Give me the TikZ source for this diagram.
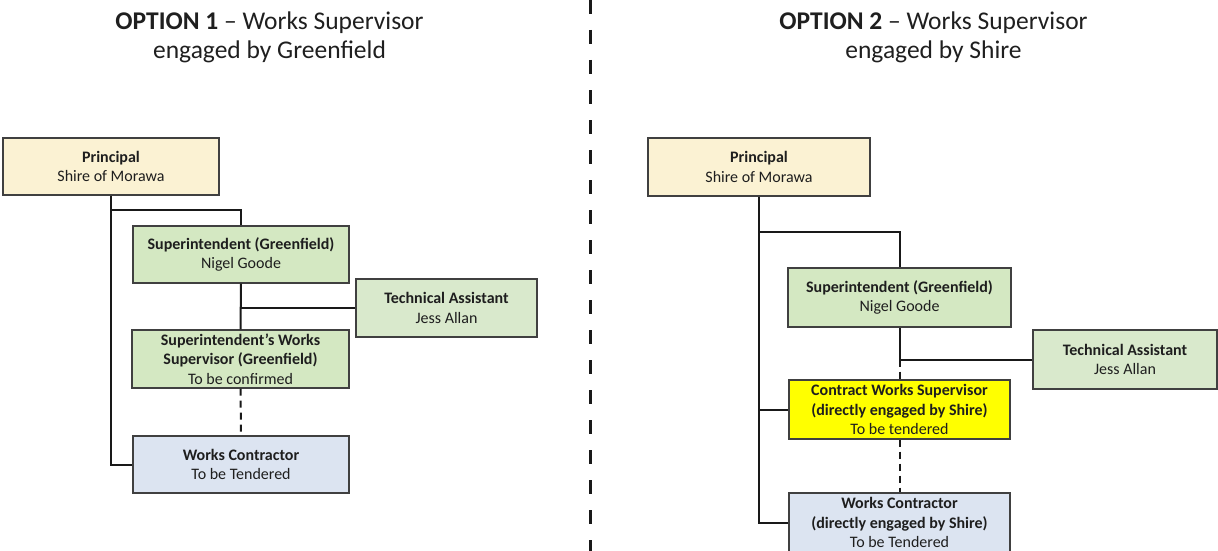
\documentclass[tikz,border=0pt]{standalone}
\usepackage{fontspec}
\setmainfont{Carlito}
\definecolor{princ}{HTML}{FBF2D3}
\definecolor{grn}{HTML}{D4E8C2}
\definecolor{grnb}{HTML}{D9E9CC}
\definecolor{ylw}{HTML}{FFFF00}
\definecolor{blu}{HTML}{DCE4F1}
\definecolor{bordc}{HTML}{404040}
\definecolor{txtc}{HTML}{1E1E1E}
\begin{document}
\begin{tikzpicture}[x=1pt,y=-1pt,
  box/.style={draw=bordc, line width=1.3pt, align=center, inner sep=0pt,
    font=\fontsize{16}{19.5}\selectfont, text=txtc},
  pbox/.style={box, fill=princ},
  gbox/.style={box, fill=grn},
  tbox/.style={box, fill=grnb},
  ybox/.style={box, fill=ylw},
  bbox/.style={box, fill=blu},
  conn/.style={line width=2pt, draw=black!90},
  dconn/.style={conn, dash pattern=on 7pt off 5pt},
  sepline/.style={line width=3pt, draw=black!90, dash pattern=on 14pt off 16pt},
  ttl/.style={align=center, font=\fontsize{25.5}{29.5}\selectfont, text=black!88, inner sep=0pt, anchor=base}]
\path[use as bounding box] (0,0) rectangle (1218,551);

% separator
\coordinate (sepT) at (590,0);
\coordinate (sepB) at (590,551);
\draw[sepline] (sepT) -- (sepB);

% titles (anchor base = baseline of last line)
\node[ttl] (tL) at (269.5,59) {\textbf{OPTION 1} -- Works Supervisor\\engaged by Greenfield};
\node[ttl] (tR) at (933.5,59) {\textbf{OPTION 2} -- Works Supervisor\\engaged by Shire};

% ---------- Option 1 ----------
\node[pbox, minimum width=216, minimum height=57] (pL) at (111,166.5) {\textbf{Principal}\\Shire of Morawa};
\node[gbox, minimum width=216, minimum height=57] (sL) at (241,254.5) {\textbf{Superintendent (Greenfield)}\\Nigel Goode};
\node[tbox, minimum width=181, minimum height=58] (taL) at (446.5,308) {\textbf{Technical Assistant}\\Jess Allan};
\node[gbox, minimum width=217, minimum height=58] (swsL) at (240.5,359) {\textbf{Superintendent’s Works}\\\textbf{Supervisor (Greenfield)}\\To be confirmed};
\node[bbox, minimum width=216, minimum height=57] (wcL) at (241,464.5) {\textbf{Works Contractor}\\To be Tendered};

\coordinate (jL1) at (pL.south |- 0,210);
\coordinate (jL2) at (sL.south |- taL.west);
\draw[conn] (pL.south) |- (wcL.west);
\draw[conn] (jL1) -| (sL.north);
\draw[conn] (sL.south) -- (swsL.north);
\draw[conn] (jL2) -- (taL.west);
\draw[dconn] (swsL.south) -- (wcL.north);

% ---------- Option 2 ----------
\node[pbox, minimum width=222, minimum height=58] (pR) at (759,167) {\textbf{Principal}\\Shire of Morawa};
\node[gbox, minimum width=223, minimum height=59] (sR) at (899.5,297.5) {\textbf{Superintendent (Greenfield)}\\Nigel Goode};
\node[tbox, minimum width=184, minimum height=59] (taR) at (1125,359.5) {\textbf{Technical Assistant}\\Jess Allan};
\node[ybox, minimum width=221, minimum height=59] (cwsR) at (899.5,409.5) {\textbf{Contract Works Supervisor}\\\textbf{(directly engaged by Shire)}\\To be tendered};
\node[bbox, minimum width=221, minimum height=59] (wcR) at (899.5,522.5) {\textbf{Works Contractor}\\\textbf{(directly engaged by Shire)}\\To be Tendered};

\coordinate (jR1) at (pR.south |- 0,232);
\coordinate (jR2) at (sR.south |- taR.west);
\draw[conn] (pR.south) |- (wcR.west);
\draw[conn] (pR.south |- cwsR.west) -- (cwsR.west);
\draw[conn] (jR1) -| (sR.north);
\draw[conn] (sR.south) -- (jR2) -- (taR.west);
\draw[dconn] (jR2) -- (cwsR.north);
\draw[dconn] (cwsR.south) -- (wcR.north);
\end{tikzpicture}
\end{document}
